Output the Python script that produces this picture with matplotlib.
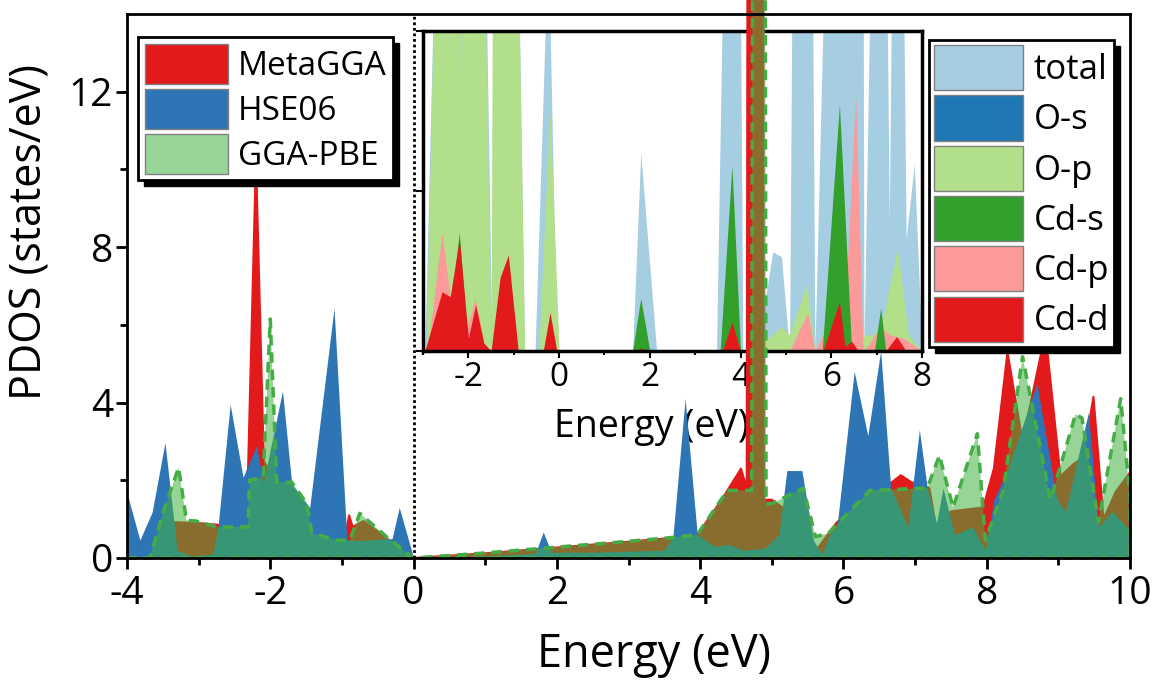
import matplotlib
matplotlib.use("Agg")
import matplotlib.pyplot as plt
from matplotlib.patches import Patch, Rectangle
import numpy as np

plt.rcParams['font.family'] = ['Open Sans', 'DejaVu Sans']
plt.rcParams['axes.unicode_minus'] = False

# ---- main plot data (energy in eV, PDOS in states/eV) ----
meta_e = [-4.0, -3.36, -3.33, -3.0, -2.7, -2.45, -2.31, -2.2, -2.09, -1.95, -1.75, -1.5,
          -1.3, -1.05, -0.95, -0.9, -0.85, -0.7, -0.4, -0.1, 0.0, 1.0, 2.0, 3.0, 3.62,
          3.97, 4.3, 4.57, 4.65, 4.68, 4.86, 4.89, 5.0, 5.3, 5.58, 5.9, 6.2, 6.5, 6.8,
          6.95, 7.2, 7.3, 7.5, 7.95, 8.1, 8.29, 8.5, 8.82, 9.03, 9.2, 9.35, 9.49, 9.63,
          9.8, 10.0]
meta = [0.0, 0.0, 0.92, 0.9, 0.85, 0.85, 2.3, 10.3, 2.5, 2.0, 1.8, 0.6,
        0.3, 0.4, 0.6, 1.1, 0.8, 0.95, 0.55, 0.1, 0.0, 0.12, 0.27, 0.42, 0.52,
        0.62, 1.5, 2.3, 1.8, 40.0, 40.0, 1.5, 1.5, 1.1, 0.1, 0.9, 1.4, 1.7, 2.13,
        1.95, 1.8, 0.7, 1.2, 1.3, 2.3, 5.3, 3.0, 5.8, 2.1, 2.4, 2.6, 4.15, 1.0,
        1.7, 2.2]

hse_e = [-4.0, -3.82, -3.65, -3.47, -3.3, -3.1, -2.8, -2.73, -2.56, -2.38, -2.19, -2.1,
         -1.83, -1.7, -1.45, -1.11, -0.93, -0.75, -0.3, -0.2, 0.0, 1.0, 1.7, 1.81, 1.92,
         2.5, 3.5, 3.62, 3.79, 3.96, 4.2, 4.4, 4.6, 4.9, 5.1, 5.21, 5.42, 5.58, 5.7,
         5.82, 5.91, 6.15, 6.34, 6.52, 6.66, 6.9, 7.06, 7.17, 7.3, 7.39, 7.55, 7.8,
         7.98, 8.1, 8.3, 8.7, 8.98, 9.1, 9.42, 9.56, 9.75, 10.0]
hse = [1.67, 0.46, 1.18, 2.97, 0.2, 0.05, 0.1, 0.8, 3.95, 2.08, 2.9, 1.9,
       4.3, 1.9, 1.3, 6.43, 0.46, 0.45, 0.5, 1.3, 0.0, 0.05, 0.12, 0.67, 0.15,
       0.15, 0.2, 0.55, 4.1, 0.6, 0.3, 0.35, 0.2, 0.25, 0.6, 2.25, 2.25, 0.46, 0.1,
       0.64, 0.8, 4.8, 3.15, 5.33, 1.8, 0.8, 3.3, 1.8, 0.9, 1.8, 0.6, 0.8,
       0.2, 1.5, 2.3, 4.5, 1.5, 1.2, 3.75, 0.8, 1.2, 0.7]

pbe_e = [-4.0, -3.68, -3.5, -3.28, -3.17, -3.03, -2.75, -2.31, -2.29, -2.1, -2.0, -1.91,
         -1.7, -1.49, -1.42, -1.07, -0.89, -0.75, -0.38, 0.0, 1.0, 2.0, 3.0, 3.62, 3.96,
         4.38, 4.72, 4.75, 4.89, 4.92, 5.0, 5.44, 5.61, 5.79, 6.37, 7.17, 7.34, 7.53,
         7.87, 7.98, 8.23, 8.5, 8.7, 8.89, 9.05, 9.24, 9.33, 9.56, 9.87, 10.0]
pbe = [0.0, 0.0, 1.15, 2.33, 0.97, 0.95, 0.8, 0.8, 2.0, 2.08, 6.15, 1.95,
       1.95, 1.4, 0.64, 0.46, 0.46, 1.15, 0.55, 0.0, 0.13, 0.28, 0.43, 0.53, 0.6,
       1.74, 1.74, 40.0, 40.0, 1.4, 1.4, 1.8, 0.55, 0.64, 1.74, 1.8, 2.64, 1.3,
       3.2, 0.46, 1.74, 5.18, 3.3, 1.5, 2.5, 3.7, 3.6, 0.92, 4.1, 1.56]

# ---- inset data (projected DOS) ----
tot_e = [-3.0, -2.96, -2.7, -1.65, -1.48, -1.46, -0.93, -0.76, -0.53, -0.24, -0.05, 1.62,
         1.8, 2.15, 3.47, 3.65, 3.98, 4.05, 4.36, 4.71, 4.9, 5.08, 5.15, 5.57, 5.64,
         5.9, 6.7, 6.72, 6.9, 7.2, 7.28, 7.35, 7.57, 7.65, 7.83, 8.0]
tot = [0, 0, 3, 3, 0.02, 3, 3, 0, 0, 2.6, 0, 0,
       1.24, 0, 0, 3, 3, 0, 0, 0.62, 0.59, 0, 3, 3, 0,
       3, 3, 0, 3, 3, 0.8, 3, 3, 0.7, 1.17, 0]

os_e = [-3.0, -2.4, -2.2, -2.0, 3.6, 3.8, 4.0, 8.0]
os_ = [0, 0, 0.02, 0, 0, 0.01, 0, 0]

op_e = [-3.0, -2.93, -2.7, -2.22, -2.17, -2.12, -1.68, -1.5, -1.46, -0.93, -0.76, -0.45,
        -0.2, 0.0, 4.3, 4.6, 4.9, 5.08, 5.46, 5.64, 5.8, 6.3, 6.7, 6.9, 7.1, 7.46,
        7.7, 8.0]
op = [0, 0, 3, 3, 1.55, 3, 3, 0.0, 3, 3, 0, 0,
      1.5, 0, 0, 0.08, 0.15, 0.1, 0.42, 0, 0.1, 0.35, 0.1, 0.1, 0.15, 0.64,
      0.1, 0]

cdp_e = [-3.0, -2.9, -2.58, -2.4, -2.25, -2.07, -1.85, -1.66, -1.5, 5.08, 5.48, 5.64,
         6.0, 6.2, 6.3, 6.54, 6.7, 6.85, 7.07, 7.3, 7.6, 8.0]
cdp = [0, 0, 0.74, 0.34, 0.5, 0.1, 0.33, 0.05, 0, 0, 0.24, 0,
       0.2, 0.34, 0.25, 1.6, 0, 0.05, 0.15, 0.1, 0.08, 0]

cds_e = [-3.0, -2.5, -2.2, -2.0, 1.62, 1.8, 2.0, 3.55, 3.81, 4.0, 5.8, 6.18, 6.45,
         6.95, 7.09, 7.2, 8.0]
cds = [0, 0, 0.74, 0, 0, 0.33, 0, 0, 1.16, 0, 0, 1.54, 0,
       0, 0.27, 0, 0]

cdd_e = [-3.0, -2.96, -2.58, -2.4, -2.2, -2.0, -1.84, -1.66, -1.5, -1.3, -1.12, -0.9,
         -0.35, -0.2, -0.05, 1.7, 1.8, 1.9, 3.6, 3.81, 4.0, 5.82, 6.18, 6.3, 6.45,
         6.6, 7.2, 7.44, 7.65, 8.0]
cdd = [0, 0, 0.37, 0.34, 0.7, 0.08, 0.29, 0.05, 0, 0.46, 0.6, 0,
       0, 0.24, 0, 0, 0.02, 0, 0, 0.18, 0, 0, 0.31, 0.03, 0.06,
       0, 0, 0.09, 0, 0]

main_labels = ['MetaGGA', 'HSE06', 'GGA-PBE']
inset_labels = ['total', 'O-s', 'O-p', 'Cd-s', 'Cd-p', 'Cd-d']

red = '#e31a1c'
blue = '#2e75b6'
green = (64/255, 179/255, 64/255)
inset_colors = {'total': '#a6cee3', 'O-s': '#1f78b4', 'O-p': '#b2df8a',
                'Cd-s': '#33a02c', 'Cd-p': '#fb9a99', 'Cd-d': '#e31a1c'}

fig = plt.figure(figsize=(11.57, 6.96), dpi=100)
W, H = 1157, 696

# main axes drawn on top of the inset (transparent background)
ax = fig.add_axes([127/W, 1-558/H, (1130-127)/W, (558-14)/H], zorder=2)
ax.patch.set_alpha(0)
axin = fig.add_axes([423/W, 1-351/H, (922-423)/W, (351-31)/H], zorder=1)

# main fills
ax.fill_between(meta_e, meta, color=red, lw=1.5, edgecolor=red, clip_on=False)
ax.fill_between(hse_e, hse, color=blue, lw=0, clip_on=False)
ax.fill_between(pbe_e, pbe, facecolor=(*green, 0.55), edgecolor=(0.27, 0.68, 0.27),
                lw=2.5, linestyle=(0, (3, 2)), clip_on=False)
ax.axvline(0, color='k', ls=(0, (1, 1)), lw=2, zorder=3)

ax.set_xlim(-4, 10)
ax.set_ylim(0, 14)
ax.set_xticks(np.arange(-4, 11, 2))
ax.set_xticks(np.arange(-3, 10, 2), minor=True)
ax.set_yticks([0, 4, 8, 12])
ax.set_yticks([2, 6, 10], minor=True)
ax.tick_params(which='major', direction='out', length=8, width=2, labelsize=28, pad=2)
ax.tick_params(which='minor', direction='out', length=5, width=2)
ax.tick_params(axis='x', pad=4)
for s in ax.spines.values():
    s.set_linewidth(2)
ax.set_xlabel('Energy (eV)', fontsize=32.5)
ax.set_ylabel('PDOS (states/eV)', fontsize=31)
ax.xaxis.set_label_coords((654-127)/1003, (558-632)/544)
ax.yaxis.set_label_coords((52-127)/1003, (558-232)/544)

# inset fills
axin.fill_between(tot_e, tot, color=inset_colors['total'], lw=0)
axin.fill_between(os_e, os_, color=inset_colors['O-s'], lw=0)
axin.fill_between(op_e, op, color=inset_colors['O-p'], lw=0)
axin.fill_between(cdp_e, cdp, color=inset_colors['Cd-p'], lw=0)
axin.fill_between(cds_e, cds, color=inset_colors['Cd-s'], lw=0)
axin.fill_between(cdd_e, cdd, color=inset_colors['Cd-d'], lw=0)
axin.set_xlim(-3, 8)
axin.set_ylim(0, 2)
axin.set_xticks(np.arange(-2, 9, 2))
axin.set_xticks(np.arange(-3, 9, 2), minor=True)
axin.set_yticks([0, 1, 2])
axin.set_yticklabels([])
axin.tick_params(which='major', direction='out', length=5, width=1.5, labelsize=24, pad=2)
axin.tick_params(which='minor', direction='out', length=3, width=1.5)
for s in axin.spines.values():
    s.set_linewidth(2.5)
axin.set_xlabel('Energy (eV)', fontsize=27)
axin.xaxis.set_label_coords((652-423)/499, (351-408)/320)

# legends
h1 = [Patch(facecolor=red, edgecolor='0.5'),
      Patch(facecolor=blue, edgecolor='0.5'),
      Patch(facecolor=(*green, 0.55), edgecolor='0.5')]
leg1 = ax.legend(h1, main_labels, loc='upper left', bbox_to_anchor=(138/W, 1-37/H),
                 bbox_transform=fig.transFigure, borderaxespad=0, fontsize=24,
                 fancybox=False, framealpha=1, edgecolor='k', handlelength=2.5,
                 handleheight=1.47, labelspacing=0.15, handletextpad=0.3, borderpad=0.2)
leg1.get_frame().set_linewidth(2)
ax.add_artist(leg1)

h2 = [Patch(facecolor=inset_colors[k], edgecolor='0.5') for k in inset_labels]
leg2 = ax.legend(h2, inset_labels, loc='upper left', bbox_to_anchor=(929/W, 1-40/H),
                 bbox_transform=fig.transFigure, borderaxespad=0, fontsize=25,
                 fancybox=False, framealpha=1, edgecolor='k', handlelength=2.56,
                 handleheight=1.62, labelspacing=0.15, handletextpad=0.3, borderpad=0.15)
leg2.get_frame().set_linewidth(2)

# black offset shadows behind the legend boxes
fig.canvas.draw()
inv = fig.transFigure.inverted()
for leg in (leg1, leg2):
    bb = leg.get_frame().get_window_extent().transformed(inv)
    ax.add_patch(Rectangle((bb.x0 + 6/W, bb.y0 - 6/H), bb.width, bb.height,
                           transform=fig.transFigure, facecolor='k', edgecolor='k',
                           clip_on=False, zorder=4.9))

fig.savefig('out.png', dpi=100)
